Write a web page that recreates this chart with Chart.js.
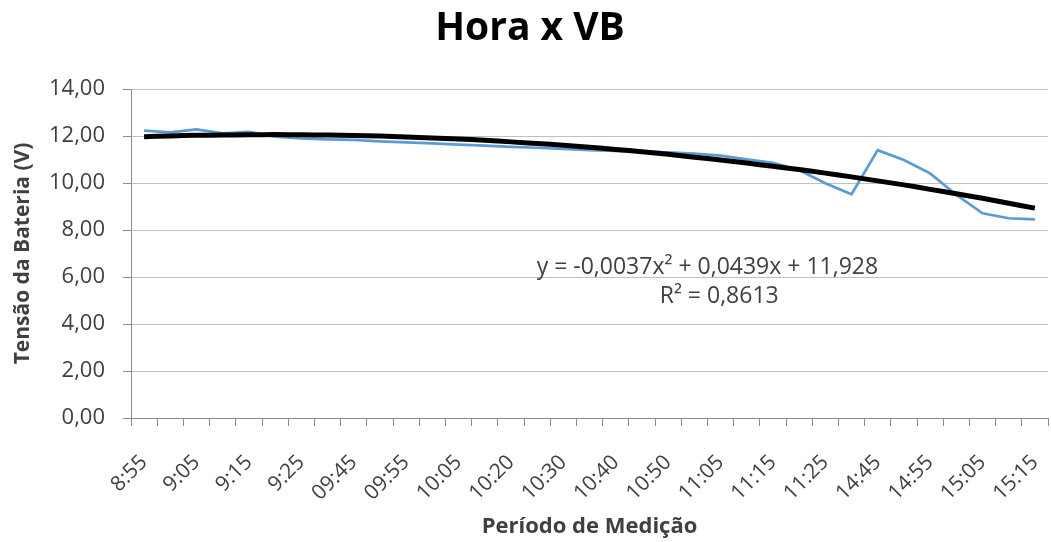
<!DOCTYPE html>
<html>
<head>
<meta charset="utf-8">
<title>Hora x VB</title>
<script src="https://cdn.jsdelivr.net/npm/chart.js@4/dist/chart.umd.min.js"></script>
<style>
  html, body { margin: 0; padding: 0; background: #fff; }
  #wrap { width: 1051px; height: 542px; }
</style>
</head>
<body>
<div id="wrap"><canvas id="vbChart" width="1051" height="542"></canvas></div>
<script>
// measurement times (only every other one is labelled on the axis)
const horas = ['8:55', '9:00', '9:05', '9:10', '9:15', '9:20', '9:25', '9:35',
    '09:45', '09:50', '09:55', '10:00', '10:05', '10:15', '10:20', '10:25',
    '10:30', '10:35', '10:40', '10:45', '10:50', '11:00', '11:05', '11:10',
    '11:15', '11:20', '11:25', '11:30', '14:45', '14:50', '14:55', '15:00',
    '15:05', '15:10', '15:15'];

// battery voltage (V)
const tensao = [12.23, 12.15, 12.28, 12.11, 12.17, 11.97, 11.90, 11.86,
    11.83, 11.77, 11.73, 11.69, 11.63, 11.59, 11.54, 11.50,
    11.45, 11.40, 11.37, 11.34, 11.30, 11.25, 11.16, 11.01,
    10.86, 10.55, 9.99, 9.52, 11.40, 10.98, 10.41, 9.50,
    8.71, 8.50, 8.45];

// polynomial trendline as drawn in the chart
const tendencia = [11.97, 12.00, 12.03, 12.04, 12.05, 12.06, 12.05, 12.04,
    12.02, 12.00, 11.96, 11.92, 11.87, 11.82, 11.75, 11.68,
    11.61, 11.52, 11.43, 11.33, 11.22, 11.10, 10.98, 10.85,
    10.71, 10.57, 10.42, 10.26, 10.09, 9.92, 9.73, 9.54,
    9.35, 9.14, 8.93];

const yTicks = [0, 2, 4, 6, 8, 10, 12, 14];
const equacao = ['y = -0,0037x\u00B2 + 0,0439x + 11,928', 'R\u00B2 = 0,8613'];

const FONT = "'Open Sans', 'Liberation Sans', sans-serif";
const textGray = '#404040';

// title + trendline equation, drawn by hand
const textos = {
    id: 'textos',
    afterDraw(chart) {
        const c = chart.ctx;
        const x = chart.scales.x, y = chart.scales.y;
        c.save();
        c.fillStyle = '#000';
        c.font = 'bold 39px ' + FONT;
        c.textAlign = 'center';
        c.textBaseline = 'middle';
        c.fillText('Hora x VB', 530, 29);

        c.fillStyle = textGray;
        c.font = '23px ' + FONT;
        c.textBaseline = 'alphabetic';
        c.fillText(equacao[0], x.getPixelForValue(21.5), y.getPixelForValue(6.13));
        c.fillText(equacao[1], x.getPixelForValue(21.95), y.getPixelForValue(4.89));
        c.restore();
    }
};

new Chart(document.getElementById('vbChart'), {
    type: 'line',
    data: {
        labels: horas,
        datasets: [
            {
                label: 'Polinomial',
                data: tendencia,
                borderColor: '#000',
                borderWidth: 5,
                pointRadius: 0,
                tension: 0.3,
                order: 0
            },
            {
                label: 'VB',
                data: tensao,
                borderColor: '#5B9BD5',
                borderWidth: 2.75,
                pointRadius: 0,
                tension: 0,
                order: 1
            }
        ]
    },
    options: {
        responsive: false,
        animation: false,
        layout: { padding: { top: 89, right: 3, left: 0, bottom: 0 } },
        plugins: {
            legend: { display: false },
            title: { display: false },
            tooltip: { enabled: false }
        },
        scales: {
            x: {
                type: 'category',
                offset: true,
                afterFit(s) {
                    s.height = 124;
                    s.paddingLeft = 0;
                    s.paddingRight = 0;
                },
                grid: {
                    offset: true,
                    drawOnChartArea: false,
                    drawTicks: true,
                    tickLength: 8,
                    tickColor: '#8c8c8c'
                },
                border: { color: '#8c8c8c', width: 1 },
                ticks: {
                    autoSkip: false,
                    maxRotation: 45,
                    minRotation: 45,
                    padding: 24,
                    color: textGray,
                    font: { family: FONT, size: 21 },
                    callback: (v, i) => (i % 2 === 0 ? horas[i] : '')
                },
                title: {
                    display: true,
                    text: 'Período de Medição',
                    color: textGray,
                    font: { family: FONT, size: 22, weight: 'bold' },
                    padding: { top: 0, bottom: 2 }
                }
            },
            y: {
                min: 0,
                max: 14,
                afterFit(s) { s.width = 131; },
                afterBuildTicks(s) { s.ticks = yTicks.map(v => ({ value: v })); },
                grid: {
                    color: '#c0c0c0',
                    drawTicks: true,
                    tickLength: 8,
                    tickColor: '#8c8c8c'
                },
                border: { color: '#8c8c8c', width: 1 },
                ticks: {
                    padding: 18,
                    color: textGray,
                    font: { family: FONT, size: 22 },
                    callback: v => v.toFixed(2).replace('.', ',')
                },
                title: {
                    display: true,
                    text: 'Tensão da Bateria (V)',
                    color: textGray,
                    font: { family: FONT, size: 21, weight: 'bold' },
                    padding: { top: 10, bottom: 0 }
                }
            }
        }
    },
    plugins: [textos]
});
</script>
</body>
</html>
